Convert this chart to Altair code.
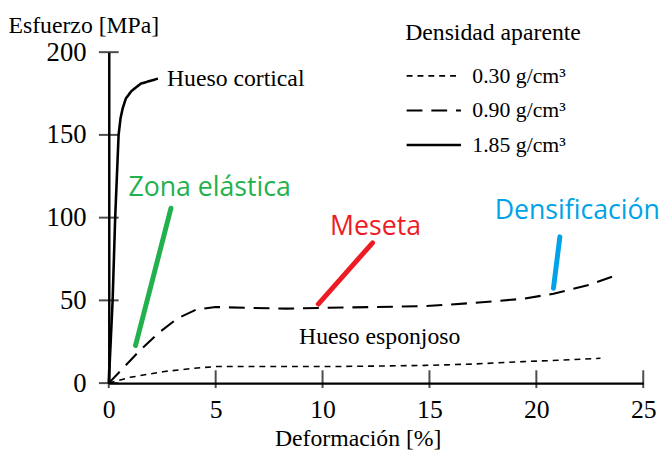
import altair as alt
import pandas as pd

# --- data ---
low_x = [0, 1, 2.6, 4, 5, 7.5, 10.2, 12.5, 14.8, 17, 19.4, 21, 23]
low_y = [0, 3.5, 7, 9, 10, 10, 10, 10.3, 10.7, 11.5, 13, 13.8, 15]
med_x = [0, 1.4, 2.3, 3.2, 4.1, 5.0, 6.5, 8.3, 10.2, 12.5, 14.8, 17.1, 19.4, 20.8, 22.5, 23.6]
med_y = [0, 19, 30, 39, 44.5, 46, 45.5, 45, 45.5, 46, 46.5, 48.5, 51, 54, 59.5, 64.5]
cort_x = [0, 0.18, 0.3, 0.46, 0.55, 0.65, 0.8, 1.06, 1.5, 2.3]
cort_y = [0, 50, 100, 150, 160, 166, 172, 176.5, 181, 184]
series = ["0.30 g/cm³", "0.90 g/cm³", "1.85 g/cm³"]

x_ticks = [0, 5, 10, 15, 20, 25]
y_ticks = [0, 50, 100, 150, 200]

ann_names = ["Zona elástica", "Meseta", "Densificación"]
ann_colors = ["#22b14c", "#ed1c24", "#00a2e8"]
ann_x0 = [1.25, 9.8, 20.8]
ann_y0 = [22.7, 47.8, 57.3]
ann_x1 = [2.91, 12.34, 21.1]
ann_y1 = [105.7, 84.8, 88.4]
ann_tx = [0.92, 10.35, 18.05]
ann_ty = [118, 94, 104]

lbl_text = ["Hueso cortical", "Hueso esponjoso"]
lbl_x = [2.72, 8.9]
lbl_y = [184, 28]

# --- tables ---
rows = []
for s, xs, ys in zip(series, [low_x, med_x, cort_x], [low_y, med_y, cort_y]):
    for a, b in zip(xs, ys):
        rows.append({"serie": s, "x": a, "y": b})
curves = pd.DataFrame(rows)

ann_rows = []
for n, c, a0, b0, a1, b1 in zip(ann_names, ann_colors, ann_x0, ann_y0, ann_x1, ann_y1):
    ann_rows.append({"name": n, "color": c, "x": a0, "y": b0, "o": 0})
    ann_rows.append({"name": n, "color": c, "x": a1, "y": b1, "o": 1})
ann = pd.DataFrame(ann_rows)
ann_txt = pd.DataFrame({"name": ann_names, "color": ann_colors, "x": ann_tx, "y": ann_ty})
lbl = pd.DataFrame({"t": lbl_text, "x": lbl_x, "y": lbl_y})
xt = pd.DataFrame({"x": x_ticks})
yt = pd.DataFrame({"y": y_ticks})

SERIF = "Liberation Serif"
SANS = "Open Sans"

xscale = alt.Scale(domain=[0, 25], nice=False, zero=False)
yscale = alt.Scale(domain=[0, 200], nice=False, zero=False)

legend = alt.Legend(
    title="Densidad aparente", orient="none", legendX=300, legendY=-31,
    symbolType="stroke", symbolSize=3025, symbolStrokeColor="black",
    labelFont=SERIF, labelFontSize=22, labelColor="black", labelOffset=10,
    titleFont=SERIF, titleFontSize=24, titleFontWeight="normal", titleColor="black",
    titlePadding=18, rowPadding=9, clipHeight=26, padding=0,
)

X = alt.X("x:Q", scale=xscale,
          axis=alt.Axis(values=x_ticks, labelPadding=14, labelFlush=False,
                        labelFont=SERIF, labelFontSize=26,
                        title="Deformación [%]",
                        titleX=252, titleY=56, titleBaseline="middle"))
Y = alt.Y("y:Q", scale=yscale,
          axis=alt.Axis(values=y_ticks, labelPadding=23, labelFlush=False,
                        labelFont=SERIF, labelFontSize=27,
                        title="Esfuerzo [MPa]", titleAngle=0,
                        titleAlign="left", titleX=-102, titleY=-27,
                        titleBaseline="middle"))

lines = alt.Chart(curves).mark_line(color="black", strokeCap="butt").encode(
    x=X, y=Y,
    strokeDash=alt.StrokeDash("serie:N", scale=alt.Scale(domain=series, range=[[6, 5], [16, 9], [1, 0]]),
                              legend=legend),
    strokeWidth=alt.StrokeWidth("serie:N", scale=alt.Scale(domain=series, range=[1.6, 2.6, 2.2]),
                                legend=legend),
    order="x:Q",
)

ytick = alt.Chart(yt).mark_tick(orient="horizontal", color="black", size=20, thickness=2).encode(
    x=alt.datum(0), y=alt.Y("y:Q"))
xtick = alt.Chart(xt).mark_tick(orient="vertical", color="black", size=18, thickness=2, yOffset=-4).encode(
    x=alt.X("x:Q"), y=alt.datum(0))

strokes = alt.Chart(ann).mark_line(strokeWidth=5, strokeCap="round").encode(
    x="x:Q", y="y:Q",
    detail="name:N",
    color=alt.Color("color:N", scale=None),
    order="o:Q",
)
ann_text = alt.Chart(ann_txt).mark_text(font=SANS, fontSize=27, align="left", baseline="middle").encode(
    x="x:Q", y="y:Q",
    text="name:N",
    color=alt.Color("color:N", scale=None),
)
lbl_layer = alt.Chart(lbl).mark_text(font=SERIF, fontSize=24, align="left", baseline="middle", color="black").encode(
    x="x:Q", y="y:Q",
    text="t:N",
)

chart = alt.layer(lines, ytick, xtick, strokes, ann_text, lbl_layer).properties(
    width=541, height=335,
    autosize=alt.AutoSizeParams(type="none"),
    padding={"left": 102, "top": 42, "right": 20, "bottom": 65},
).configure(background="white").configure_view(stroke=None).configure_axis(
    ticks=False, grid=False, domainColor="black", domainWidth=2.5,
    labelFont=SERIF, labelFontSize=27, labelColor="black",
    titleFont=SERIF, titleFontSize=24, titleFontWeight="normal", titleColor="black",
)

chart.save("out.html", embed_options={"renderer": "svg", "actions": False})
